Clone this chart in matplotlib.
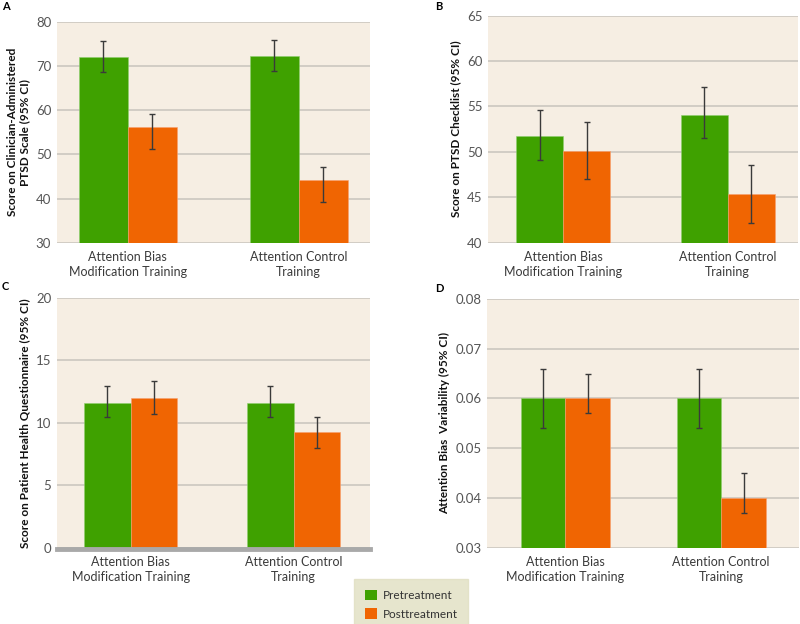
import numpy as np
import matplotlib
matplotlib.use('Agg')
import matplotlib.pyplot as plt
from matplotlib.patches import Patch

plt.rcParams['font.family'] = ['Lato', 'DejaVu Sans']

groups = ['Attention Bias\nModification Training', 'Attention Control\nTraining']
series = ['Pretreatment', 'Posttreatment']

# panel A: Clinician-Administered PTSD Scale
caps_pre = [72.1, 72.3]
caps_pre_lo = [68.7, 68.8]
caps_pre_hi = [75.6, 75.9]
caps_post = [56.1, 44.1]
caps_post_lo = [51.3, 39.2]
caps_post_hi = [59.2, 47.2]

# panel B: PTSD Checklist
pcl_pre = [51.7, 54.1]
pcl_pre_lo = [49.1, 51.5]
pcl_pre_hi = [54.6, 57.1]
pcl_post = [50.1, 45.4]
pcl_post_lo = [47.0, 42.2]
pcl_post_hi = [53.3, 48.6]

# panel C: Patient Health Questionnaire
phq_pre = [11.6, 11.6]
phq_pre_lo = [10.5, 10.5]
phq_pre_hi = [12.9, 12.9]
phq_post = [12.0, 9.25]
phq_post_lo = [10.7, 7.97]
phq_post_hi = [13.3, 10.5]

# panel D: attention bias variability
abv_pre = [0.060, 0.060]
abv_pre_lo = [0.054, 0.054]
abv_pre_hi = [0.066, 0.066]
abv_post = [0.060, 0.040]
abv_post_lo = [0.057, 0.037]
abv_post_hi = [0.065, 0.045]

green = '#3fa100'
orange = '#f06502'
panel_bg = '#f6eee3'
grid_col = '#cbc7bf'

fig = plt.figure(figsize=(8, 6.24), dpi=100)
W, H = 800, 624

panels = [
    ('A', (2, 6), [0.071, 0.611, 0.391, 0.354],
     (caps_pre, caps_pre_lo, caps_pre_hi, caps_post, caps_post_lo, caps_post_hi),
     (30, 80), np.arange(30, 81, 10), 'Score on Clinician-Administered\nPTSD Scale (95% CI)', (-0.415, 1.415), '{:.0f}'),
    ('B', (435, 6), [0.610, 0.611, 0.388, 0.364],
     (pcl_pre, pcl_pre_lo, pcl_pre_hi, pcl_post, pcl_post_lo, pcl_post_hi),
     (40, 65), np.arange(40, 66, 5), 'Score on PTSD Checklist (95% CI)', (-0.457, 1.43), '{:.0f}'),
    ('C', (2, 287), [0.071, 0.122, 0.391, 0.401],
     (phq_pre, phq_pre_lo, phq_pre_hi, phq_post, phq_post_lo, phq_post_hi),
     (0, 20), np.arange(0, 21, 5), 'Score on Patient Health Questionnaire (95% CI)', (-0.454, 1.466), '{:.0f}'),
    ('D', (435, 288), [0.609, 0.122, 0.390, 0.399],
     (abv_pre, abv_pre_lo, abv_pre_hi, abv_post, abv_post_lo, abv_post_hi),
     (0.03, 0.08), np.arange(0.03, 0.0801, 0.01), 'Attention Bias  Variability (95% CI)', (-0.5, 1.5), '{:.2f}'),
]

w = 0.286
x = np.arange(len(groups))
for letter, lpos, rect, vals, ylim, yticks, ylabel, xlim, fmt in panels:
    pre, pre_lo, pre_hi, post, post_lo, post_hi = vals
    ax = fig.add_axes(rect)
    ax.set_facecolor(panel_bg)
    ax.set_ylim(*ylim)
    ax.set_xlim(*xlim)
    ax.set_yticks(yticks)
    ax.set_yticklabels([fmt.format(t) for t in yticks])
    ax.grid(axis='y', color=grid_col, linewidth=1.2, zorder=0)
    ax.set_axisbelow(True)
    for s in ax.spines.values():
        s.set_visible(False)
    pre = np.array(pre)
    post = np.array(post)
    err_pre = [pre - np.array(pre_lo), np.array(pre_hi) - pre]
    err_post = [post - np.array(post_lo), np.array(post_hi) - post]
    ax.bar(x - w / 2, pre, w, color=green, edgecolor='#8fcf70', linewidth=0.4, zorder=2)
    ax.bar(x + w / 2, post, w, color=orange, edgecolor='#f9a070', linewidth=0.4, zorder=2)
    ax.errorbar(x - w / 2, pre, yerr=err_pre, fmt='none', ecolor='#3a3a3a', elinewidth=1.0,
                capsize=2.5, capthick=1.0, zorder=3)
    ax.errorbar(x + w / 2, post, yerr=err_post, fmt='none', ecolor='#3a3a3a', elinewidth=1.0,
                capsize=2.5, capthick=1.0, zorder=3)
    if letter == 'C':
        ax.axhline(-0.12, color='#a9a9a9', linewidth=3.5, zorder=4, clip_on=False)
    ax.set_xticks(x)
    ax.set_xticklabels(groups, fontsize=9, color='#3a3a3a', linespacing=1.25)
    ax.tick_params(axis='both', length=0, pad=6)
    ax.tick_params(axis='y', labelsize=9.5, labelcolor='#555555', pad=4)
    ax.set_ylabel(ylabel, fontsize=8.5, fontweight='bold', color='#111111', labelpad=4)
    fig.text(lpos[0] / W, 1 - lpos[1] / H, letter, fontsize=8, fontweight='bold',
             ha='left', va='center')

handles = [Patch(facecolor=green, edgecolor='none'), Patch(facecolor=orange, edgecolor='none')]
leg = fig.legend(handles, series, loc='lower center', bbox_to_anchor=(0.514, -0.01), fontsize=8.5,
                 frameon=True, fancybox=False, handlelength=1.0, handleheight=1.0,
                 borderpad=0.9, labelspacing=0.6, handletextpad=0.5, borderaxespad=0)
leg.get_frame().set_facecolor('#e0dfc1')
leg.get_frame().set_edgecolor('#e0dfc1')
for t in leg.get_texts():
    t.set_color('#333333')

fig.savefig('out.png', dpi=100)
